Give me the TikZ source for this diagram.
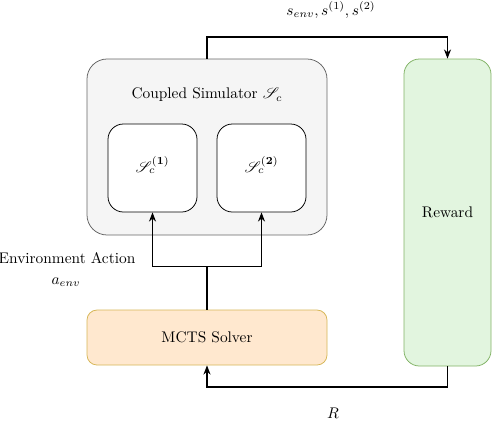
\documentclass[tikz,border=0pt]{standalone}
\usepackage{mathrsfs}
\usetikzlibrary{arrows.meta}
\definecolor{grayfill}{HTML}{F5F5F5}
\definecolor{graydraw}{HTML}{666666}
\definecolor{greenfill}{RGB}{226,245,223}
\definecolor{greendraw}{HTML}{82B366}
\definecolor{orangefill}{HTML}{FFE8CF}
\definecolor{orangedraw}{HTML}{D6B656}
\begin{document}
\begin{tikzpicture}[x=0.65pt,y=-0.65pt,
  outerbox/.style={draw=graydraw,fill=grayfill,rounded corners=13pt,line width=0.5pt,minimum width=156pt,minimum height=114.4pt,inner sep=0pt},
  innerbox/.style={draw=black,fill=white,rounded corners=10pt,line width=0.5pt,minimum width=57.85pt,minimum height=57.2pt,inner sep=0pt},
  rewardbox/.style={draw=greendraw,fill=greenfill,rounded corners=10pt,line width=0.5pt,minimum width=56.55pt,minimum height=199.55pt,inner sep=0pt},
  mctsbox/.style={draw=orangedraw,fill=orangefill,rounded corners=6.5pt,line width=0.5pt,minimum width=156pt,minimum height=35.75pt,inner sep=0pt},
  arr/.style={-{Stealth[length=6pt,width=4.6pt]},line width=0.7pt},
  link/.style={line width=0.9pt},
  lbl/.style={inner sep=0pt}]
\useasboundingbox (0,0) rectangle (492,420);
\node[outerbox] (outer) at (207,147) {};
\node[lbl] (outerlbl) at (207,95) {Coupled Simulator $\mathscr{S}_c$};
\node[innerbox] (box1) at (152.5,168) {};
\node[innerbox] (box2) at (261.5,168) {};
\node[lbl] (box1lbl) at (152.5,165) {$\mathscr{S}_c^{\mathbf{(1)}}$};
\node[lbl] (box2lbl) at (261.5,165) {$\mathscr{S}_c^{\mathbf{(2)}}$};
\node[rewardbox] (reward) at (447.5,212.5) {Reward};
\node[mctsbox] (mcts) at (207,337.5) {MCTS Solver};
\coordinate (top) at (330,37);
\coordinate (bot) at (330,387);
\coordinate (j) at (207,266.7);
\draw[arr] (outer.north) |- (top) -| (reward.north);
\draw[arr] (reward.south) |- (bot) -| (mcts.south);
\draw[link] (mcts.north) -- (j);
\draw[arr] (j) -| (box1.south);
\draw[arr] (j) -| (box2.south);
\node[lbl] (stlbl) at (331,10) {$s_{env}, s^{(1)}, s^{(2)}$};
\node[lbl] (rlbl) at (333,413) {$R$};
\node[lbl] (ealbl) at (67,258) {Environment Action};
\node[lbl] (aelbl) at (66,282) {$a_{env}$};
\end{tikzpicture}
\end{document}
